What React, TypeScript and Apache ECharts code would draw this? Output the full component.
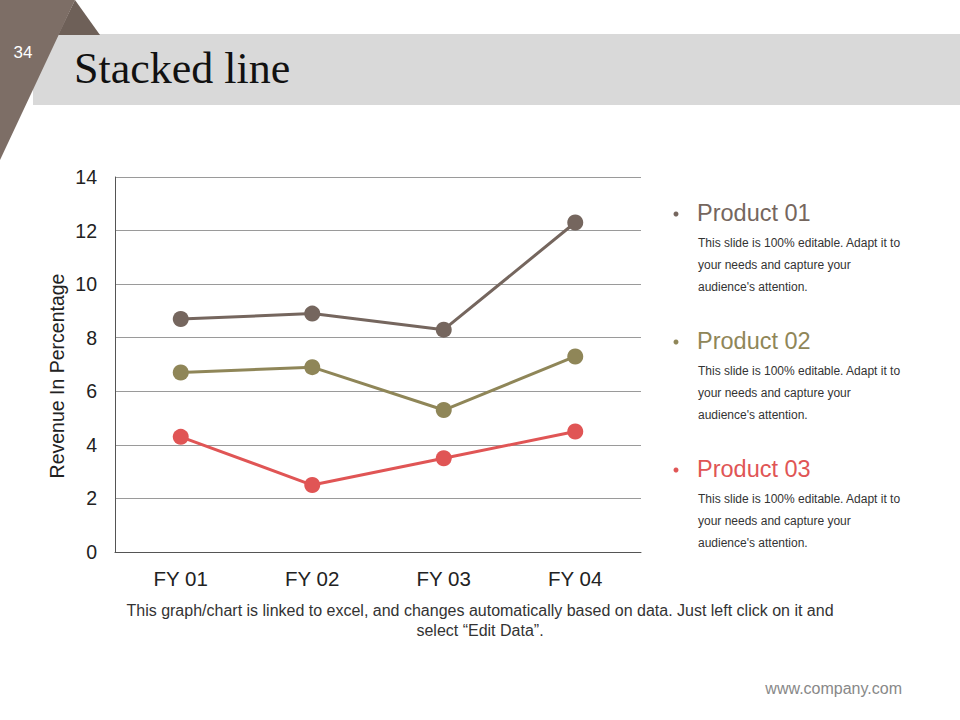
import React, { useEffect, useRef } from "react";
import * as echarts from "echarts";

const categories = ["FY 01", "FY 02", "FY 03", "FY 04"];
const product03 = [4.3, 2.5, 3.5, 4.5];
const product02 = [2.4, 4.4, 1.8, 2.8];
const product01 = [2, 2, 3, 5];
const seriesNames = ["Product 03", "Product 02", "Product 01"];
const colors = { p01: "#75665e", p02: "#8f8658", p03: "#e05555" };
const desc = "This slide is 100% editable. Adapt it to\nyour needs and capture your\naudience's attention.";

export default function App() {
  const ref = useRef<HTMLDivElement>(null);
  useEffect(() => {
    document.body.style.margin = "0";
    const chart = echarts.init(ref.current!, undefined, { renderer: "svg" });
    const legendItems = [
      { name: "Product 01", color: colors.p01, y: 213 },
      { name: "Product 02", color: colors.p02, y: 341 },
      { name: "Product 03", color: colors.p03, y: 469 },
    ];
    const legendGraphics: any[] = [];
    legendItems.forEach((it) => {
      legendGraphics.push({
        type: "circle",
        shape: { cx: 676, cy: it.y + 1, r: 2.5 },
        style: { fill: it.color },
      });
      legendGraphics.push({
        type: "text",
        x: 697,
        y: it.y,
        style: {
          text: it.name,
          fill: it.color,
          font: '23.5px "Liberation Sans", Arial, sans-serif',
          verticalAlign: "middle",
        },
      });
      legendGraphics.push({
        type: "text",
        x: 698,
        y: it.y + 19,
        style: {
          text: desc,
          fill: "#333333",
          font: '12px "Liberation Sans", Arial, sans-serif',
          lineHeight: 22,
          verticalAlign: "top",
        },
      });
    });
    chart.setOption({
      animation: false,
      backgroundColor: "#ffffff",
      grid: { left: 115, right: 319, top: 177, bottom: 168 },
      xAxis: {
        type: "category",
        data: categories,
        boundaryGap: true,
        axisLine: { lineStyle: { color: "#555555", width: 1 } },
        axisTick: { show: false },
        axisLabel: {
          color: "#222222",
          fontSize: 20.5,
          fontFamily: '"Liberation Sans", Arial, sans-serif',
          margin: 16,
        },
      },
      yAxis: {
        type: "value",
        min: 0,
        max: 14,
        interval: 2,
        axisLine: { show: true, lineStyle: { color: "#555555", width: 1 } },
        axisTick: { show: false },
        axisLabel: {
          color: "#222222",
          fontSize: 19.5,
          fontFamily: '"Liberation Sans", Arial, sans-serif',
          margin: 18,
        },
        splitLine: { lineStyle: { color: "#9a9a9a", width: 1 } },
      },
      series: [
        {
          name: seriesNames[0],
          type: "line",
          stack: "total",
          data: product03,
          symbol: "circle",
          symbolSize: 16,
          lineStyle: { color: colors.p03, width: 3 },
          itemStyle: { color: colors.p03 },
        },
        {
          name: seriesNames[1],
          type: "line",
          stack: "total",
          data: product02,
          symbol: "circle",
          symbolSize: 16,
          lineStyle: { color: colors.p02, width: 3 },
          itemStyle: { color: colors.p02 },
        },
        {
          name: seriesNames[2],
          type: "line",
          stack: "total",
          data: product01,
          symbol: "circle",
          symbolSize: 16,
          lineStyle: { color: colors.p01, width: 3 },
          itemStyle: { color: colors.p01 },
        },
      ],
      graphic: [
        {
          type: "rect",
          shape: { x: 33, y: 34, width: 927, height: 71 },
          style: { fill: "#d9d9d9" },
          z: 0,
        },
        {
          type: "polygon",
          shape: { points: [[75, 0], [100, 35], [58, 35]] },
          style: { fill: "#6e6058" },
          z: 1,
        },
        {
          type: "polygon",
          shape: { points: [[0, 0], [75, 0], [0, 160]] },
          style: { fill: "#7d6e66" },
          z: 2,
        },
        {
          type: "text",
          x: 23,
          y: 52,
          style: {
            text: "34",
            fill: "#ffffff",
            font: '17px "Liberation Sans", Arial, sans-serif',
            align: "center",
            verticalAlign: "middle",
          },
          z: 3,
        },
        {
          type: "text",
          x: 74,
          y: 68,
          style: {
            text: "Stacked line",
            fill: "#111111",
            font: '44px "Liberation Serif", "DejaVu Serif", serif',
            verticalAlign: "middle",
          },
          z: 3,
        },
        {
          type: "text",
          x: 57,
          y: 376,
          rotation: Math.PI / 2,
          style: {
            text: "Revenue In Percentage",
            fill: "#222222",
            font: '19.5px "Liberation Sans", Arial, sans-serif',
            align: "center",
            verticalAlign: "middle",
          },
        },
        ...legendGraphics,
        {
          type: "text",
          x: 480,
          y: 620,
          style: {
            text: "This graph/chart is linked to excel, and changes automatically based on data. Just left click on it and\nselect \u201cEdit Data\u201d.",
            fill: "#333333",
            font: '16px "Liberation Sans", Arial, sans-serif',
            align: "center",
            verticalAlign: "middle",
            lineHeight: 20,
          },
        },
        {
          type: "text",
          x: 902,
          y: 688,
          style: {
            text: "www.company.com",
            fill: "#888888",
            font: '16px "Liberation Sans", Arial, sans-serif',
            align: "right",
            verticalAlign: "middle",
          },
        },
      ],
    });
    return () => chart.dispose();
  }, []);
  return <div ref={ref} style={{ width: 960, height: 720 }} />;
}
